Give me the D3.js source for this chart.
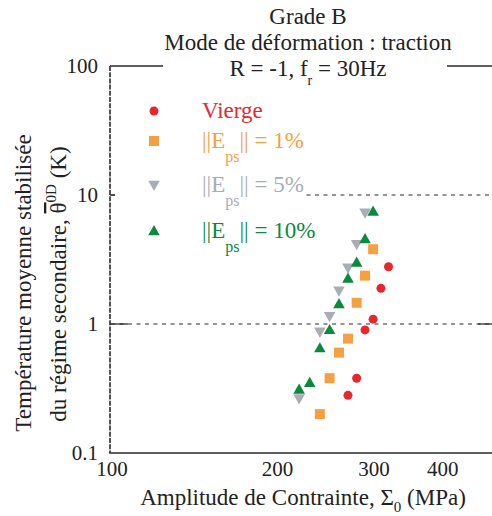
<!DOCTYPE html>
<html><head><meta charset="utf-8">
<script src="https://cdn.jsdelivr.net/npm/d3@7"></script>
<style>
html,body{margin:0;padding:0;background:#fff;}
svg{display:block;font-family:"Liberation Serif","Times New Roman",serif;}
</style></head>
<body><svg id="c" width="492" height="516"></svg>
<script>
// ---- data ----
const xTicks = [100, 200, 300, 400];
const yTicks = [0.1, 1, 10, 100];
const yTickLabels = ["0.1", "1", "10", "100"];
const viergeX = [270, 280, 290, 300, 310, 320];
const viergeY = [0.28, 0.38, 0.90, 1.09, 1.89, 2.78];
const e1X = [240, 250, 260, 270, 280, 290, 300];
const e1Y = [0.20, 0.38, 0.60, 0.77, 1.46, 2.37, 3.8];
const e5X = [220, 240, 250, 260, 270, 280, 290];
const e5Y = [0.265, 0.87, 1.15, 1.81, 2.73, 4.15, 7.3];
const e10X = [220, 230, 240, 250, 260, 270, 280, 290, 300];
const e10Y = [0.31, 0.35, 0.65, 0.90, 1.43, 2.25, 3.0, 4.55, 7.45];
const titleLines = ["Grade B", "Mode de déformation : traction"];
const legendNames = ["Vierge", "1%", "5%", "10%"];
const colors = ["#e8262b", "#f5a042", "#a9adb5", "#0b8a3f"];

const series = [
  {name: legendNames[0], xs: viergeX, ys: viergeY, sym: "circle", color: colors[0]},
  {name: legendNames[1], xs: e1X, ys: e1Y, sym: "square", color: colors[1]},
  {name: legendNames[2], xs: e5X, ys: e5Y, sym: "down", color: colors[2]},
  {name: legendNames[3], xs: e10X, ys: e10Y, sym: "up", color: colors[3]}
];

const svg = d3.select("#c");
const L = 111, R = 495, T = 66, B = 453;
const x = d3.scaleLog().domain([100, 500]).range([L, R]);
const y = d3.scaleLog().domain([0.1, 100]).range([B, T]);
const ink = "#2a2a2a";

// gridlines
[1, 10].forEach(v => {
  svg.append("line").attr("x1", L).attr("x2", 492).attr("y1", y(v)).attr("y2", y(v))
    .attr("stroke", ink).attr("stroke-width", 1).attr("stroke-dasharray", "4,4.5");
});
// top line at 100
svg.append("line").attr("x1", L - 1).attr("x2", 492).attr("y1", y(100)).attr("y2", y(100))
  .attr("stroke", ink).attr("stroke-width", 1.5);
// inward ticks at 1
svg.append("line").attr("x1", L - 1).attr("x2", L + 17).attr("y1", y(1)).attr("y2", y(1))
  .attr("stroke", ink).attr("stroke-width", 1.3);
svg.append("line").attr("x1", R - 17).attr("x2", R).attr("y1", y(1)).attr("y2", y(1))
  .attr("stroke", ink).attr("stroke-width", 1.3);
svg.append("line").attr("x1", L - 1).attr("x2", L + 4).attr("y1", y(10)).attr("y2", y(10))
  .attr("stroke", ink).attr("stroke-width", 1.3);

// white boxes (title & legend)
svg.append("rect").attr("x", 163).attr("y", 0).attr("width", 284).attr("height", 88).attr("fill", "#fff");
svg.append("rect").attr("x", 116).attr("y", 95).attr("width", 186).attr("height", 155).attr("fill", "#fff");

// axes lines
svg.append("line").attr("x1", L - 1).attr("x2", L - 1).attr("y1", T).attr("y2", B)
  .attr("stroke", ink).attr("stroke-width", 1.6).attr("stroke-dasharray", "5,1.2");
svg.append("line").attr("x1", L - 1.8).attr("x2", 492).attr("y1", B).attr("y2", B)
  .attr("stroke", ink).attr("stroke-width", 1.6);

// tick labels
const fs = 21;
svg.selectAll(".xt").data(xTicks).enter().append("text")
  .attr("x", d => x(d) + 1).attr("y", 476).attr("text-anchor", "middle")
  .attr("font-size", fs).attr("fill", "#222").text(d => d);
svg.selectAll(".yt").data(yTicks).enter().append("text")
  .attr("x", 98).attr("y", d => y(d) + 7).attr("text-anchor", "end")
  .attr("font-size", fs).attr("fill", "#222").text((d, i) => yTickLabels[i]);

// title
const tcx = 308, tfs = 23;
svg.append("text").attr("x", tcx).attr("y", 24).attr("text-anchor", "middle").attr("font-size", tfs).attr("fill", "#222").text(titleLines[0]);
svg.append("text").attr("x", tcx).attr("y", 50).attr("text-anchor", "middle").attr("font-size", tfs).attr("fill", "#222").text(titleLines[1]);
const t3 = svg.append("text").attr("x", tcx).attr("y", 76).attr("text-anchor", "middle").attr("font-size", tfs).attr("fill", "#222");
t3.append("tspan").text("R = -1, f");
t3.append("tspan").attr("font-size", 14).attr("dy", 9).text("r");
t3.append("tspan").attr("dy", -9).text(" = 30Hz");

// x label
const xl = svg.append("text").attr("x", 303).attr("y", 505).attr("text-anchor", "middle").attr("font-size", tfs).attr("fill", "#222");
xl.append("tspan").text("Amplitude de Contrainte, Σ");
xl.append("tspan").attr("font-size", 15).attr("dy", 7).text("0");
xl.append("tspan").attr("dy", -7).text(" (MPa)");

// y label
svg.append("text").attr("transform", "translate(31,283) rotate(-90)").attr("text-anchor", "middle").attr("font-size", tfs).attr("fill", "#222")
  .text("Température moyenne stabilisée");
const yl2 = svg.append("text").attr("transform", "translate(66,284) rotate(-90)").attr("text-anchor", "middle").attr("font-size", tfs).attr("fill", "#222");
yl2.append("tspan").text("du régime secondaire, ");
yl2.append("tspan").attr("style", "text-decoration: overline").text("θ");
yl2.append("tspan").attr("font-size", 15).attr("dy", -10).text("0D");
yl2.append("tspan").attr("dy", 10).text(" (K)");

// markers
function drawSym(g, sym, cx, cy, color) {
  if (sym === "circle") {
    g.append("circle").attr("cx", cx).attr("cy", cy).attr("r", 4.5).attr("fill", color);
  } else if (sym === "square") {
    g.append("rect").attr("x", cx - 5).attr("y", cy - 5).attr("width", 10).attr("height", 10).attr("fill", color);
  } else if (sym === "up") {
    g.append("path").attr("d", `M${cx},${cy - 6}L${cx + 5.8},${cy + 4.2}L${cx - 5.8},${cy + 4.2}Z`).attr("fill", color);
  } else {
    g.append("path").attr("d", `M${cx},${cy + 6}L${cx + 5.8},${cy - 4.2}L${cx - 5.8},${cy - 4.2}Z`).attr("fill", color);
  }
}
const pg = svg.append("g");
series.forEach(s => {
  s.xs.forEach((xv, i) => drawSym(pg, s.sym, x(xv), y(s.ys[i]), s.color));
});

// legend
const legY = [118, 148, 192, 238];
const lg = svg.append("g");
series.forEach((s, i) => {
  drawSym(lg, s.sym, 154, legY[i] - 7, s.color);
  const t = lg.append("text").attr("x", 202).attr("y", legY[i]).attr("font-size", tfs).attr("fill", s.color);
  if (i === 0) { t.text(s.name); }
  else {
    t.append("tspan").text("||E");
    t.append("tspan").attr("font-size", 16).attr("dy", 14).text("ps");
    t.append("tspan").attr("dy", -14).text("|| = " + s.name);
  }
});
</script></body></html>
